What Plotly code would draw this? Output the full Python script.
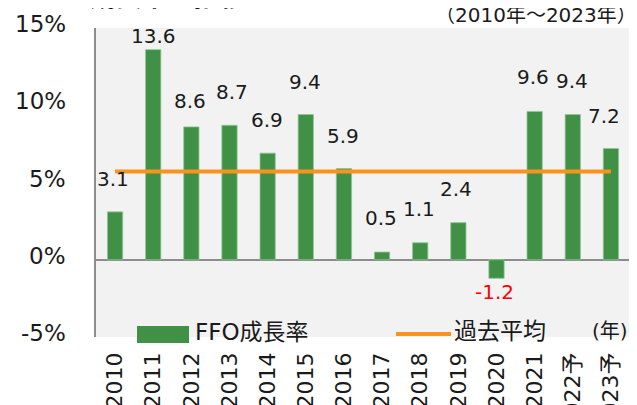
import plotly.graph_objects as go

years = ["2010", "2011", "2012", "2013", "2014", "2015", "2016", "2017",
         "2018", "2019", "2020", "2021", "2022予", "2023予"]
ffo_growth = [3.1, 13.6, 8.6, 8.7, 6.9, 9.4, 5.9, 0.5, 1.1, 2.4, -1.2, 9.6, 9.4, 7.2]
past_average = [5.72] * len(years)
y_tick_vals = [-5, 0, 5, 10, 15]
y_tick_text = ["-5%", "0%", "5%", "10%", "15%"]

# label offsets (pixels) to mimic manually placed labels
label_dy = [33, 14, 26, 33, 33, 33, 33, 34, 34, 34, -14, 34, 34, 33]
label_dx = [-2, 0, -1, 2, -1, -1, -1, -1, -1, -2, -2, -2, -1, -7]

FONT = "DejaVu Sans, Noto Sans CJK JP"
GREEN = "#409146"
ORANGE = "#F7931E"
AXIS = "#8c8c8c"

fig = go.Figure()
fig.add_trace(go.Bar(x=years, y=ffo_growth, marker=dict(color=GREEN, line=dict(color="#8fc497", width=0.8)),
                     width=0.4, name="FFO成長率", showlegend=False))
fig.add_trace(go.Scatter(x=years, y=past_average, mode="lines", line=dict(color=ORANGE, width=4),
                         name="過去平均", showlegend=False))

ann = []
for i, v in enumerate(ffo_growth):
    ann.append(dict(x=i, y=v, xref="x", yref="y", text=f"{v:.1f}", showarrow=False,
                    xshift=label_dx[i], yshift=label_dy[i],
                    font=dict(family=FONT, size=20, color="#FF0000" if v < 0 else "#1a1a1a")))

# plot area spans screen px x 96..630, y 28..337
def px_x(px):
    return (px - 96) / 534.0

def px_y(py):
    return (337 - py) / 309.0

# y tick labels (slightly raised, as in the reference)
for tv, tt in zip(y_tick_vals, y_tick_text):
    ann.append(dict(x=px_x(68), y=tv, xref="paper", yref="y", xanchor="right", yanchor="middle",
                    yshift=4, text=tt, showarrow=False,
                    font=dict(family=FONT, size=23, color="#1a1a1a")))

# title (cropped at top) and subtitle
ann.append(dict(x=px_x(30), y=px_y(14), xref="paper", yref="paper", xanchor="left", yanchor="bottom",
                text="<b>FFO成長率の推移</b>", showarrow=False,
                font=dict(family=FONT, size=26, color="#111111")))
ann.append(dict(x=px_x(639), y=px_y(15), xref="paper", yref="paper", xanchor="right", yanchor="middle",
                text="（2010年～2023年）", showarrow=False,
                font=dict(family=FONT, size=20, color="#1a1a1a")))
# legend texts
ann.append(dict(x=px_x(193), y=px_y(332), xref="paper", yref="paper", xanchor="left", yanchor="middle",
                text="FFO成長率", showarrow=False, font=dict(family=FONT, size=23, color="#1a1a1a")))
ann.append(dict(x=px_x(452), y=px_y(331), xref="paper", yref="paper", xanchor="left", yanchor="middle",
                text="過去平均", showarrow=False, font=dict(family=FONT, size=23, color="#1a1a1a")))
ann.append(dict(x=px_x(630), y=px_y(331), xref="paper", yref="paper", xanchor="right", yanchor="middle",
                text="(年)", showarrow=False, font=dict(family=FONT, size=20, color="#1a1a1a")))

shapes = [
    dict(type="rect", xref="paper", yref="paper", x0=px_x(137), x1=px_x(189), y0=px_y(343), y1=px_y(326),
         fillcolor=GREEN, line=dict(width=0)),
    dict(type="line", xref="paper", yref="paper", x0=px_x(396), x1=px_x(451), y0=px_y(334), y1=px_y(334),
         line=dict(color=ORANGE, width=4)),
]

fig.update_layout(
    width=629, height=397,
    margin=dict(l=88, r=7, t=20, b=68),
    paper_bgcolor="white", plot_bgcolor="#f2f2f2",
    font=dict(family=FONT, size=20, color="#1a1a1a"),
    annotations=ann, shapes=shapes, showlegend=False,
    bargap=0.6,
)
fig.update_xaxes(type="category", tickangle=-90, showgrid=False, showline=False, ticks="",
                 tickfont=dict(family=FONT, size=22, color="#1a1a1a"), ticklabelstandoff=10,
                 range=[-0.5, 13.5], automargin=False)
fig.update_yaxes(range=[-5, 15], tickvals=y_tick_vals, showticklabels=False, showgrid=False,
                 showline=True, linecolor=AXIS, linewidth=2, zeroline=True, zerolinecolor=AXIS,
                 zerolinewidth=2, ticks="", automargin=False)

fig.write_html("out.html")
